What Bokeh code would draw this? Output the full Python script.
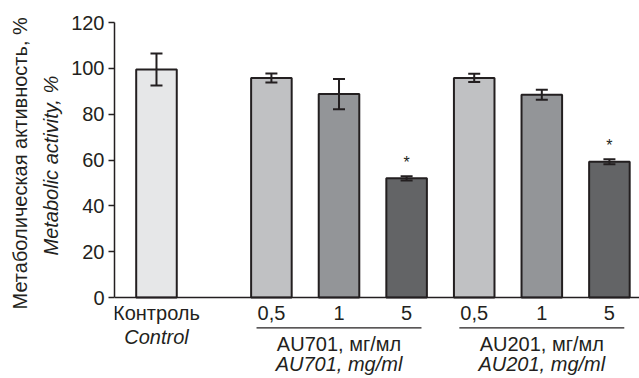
from bokeh.plotting import figure
from bokeh.models import ColumnDataSource, Range1d, FixedTicker, Whisker, TeeHead, Title
from bokeh.embed import file_html
from bokeh.resources import INLINE
from bokeh.core.properties import value

# Metabolic activity of cells, % of control (mean and error)
dose_labels = ["Контроль", "0,5", "1", "5", "0,5", "1", "5"]
series_group = ["Control", "AU701", "AU701", "AU701", "AU201", "AU201", "AU201"]
activity = [99.5, 95.8, 88.8, 52.0, 95.8, 88.5, 59.2]
errors = [7.0, 2.0, 6.6, 0.9, 1.8, 2.2, 1.1]
significant = [False, False, False, True, False, False, True]
control_label_en = "Control"
group_names = ["AU701", "AU201"]
group_titles_ru = ["AU701, мг/мл", "AU201, мг/мл"]
group_titles_en = ["AU701, mg/ml", "AU201, mg/ml"]
y_ticks = [0, 20, 40, 60, 80, 100, 120]
y_title_ru = "Метаболическая активность, %"
y_title_en = "Metabolic activity, %"

# ---- styling ----
FONT = "Liberation Sans"
INK = "#231f20"
CONTROL_FILL = "#e6e7e8"
DOSE_FILL = {"0,5": "#c0c1c3", "1": "#939598", "5": "#636466"}
CONTROL_GAP = 1.7          # distance from the control bar to the first treated bar
BAR_WIDTH = 0.6
X_START, X_END = -0.621, 7.145
Y_TOP = 120
PX = 120 / 275             # data units per screen pixel on the value axis


def below(px):
    """Value-axis coordinate lying `px` pixels below the zero line."""
    return -px * PX


xs = [0.0] + [CONTROL_GAP + i for i in range(len(activity) - 1)]
fills = [CONTROL_FILL if g == "Control" else DOSE_FILL[d] for g, d in zip(series_group, dose_labels)]
upper = [a + e for a, e in zip(activity, errors)]
lower = [a - e for a, e in zip(activity, errors)]

src = ColumnDataSource(dict(x=xs, top=activity, upper=upper, lower=lower, fill=fills))

p = figure(width=639, height=378, output_backend="svg", toolbar_location=None,
           x_range=Range1d(X_START, X_END), y_range=Range1d(below(81), Y_TOP),
           x_axis_location=None,
           min_border_left=114, min_border_right=0, min_border_top=22, min_border_bottom=0)
p.outline_line_color = None
p.grid.visible = False
p.background_fill_color = "white"

# value axis
ax = p.yaxis[0]
ax.bounds = (0, Y_TOP)
ax.ticker = FixedTicker(ticks=y_ticks)
ax.minor_tick_line_color = None
ax.major_tick_in = 0
ax.major_tick_out = 6
ax.major_tick_line_width = 1.5
ax.major_tick_line_color = INK
ax.axis_line_width = 1.5
ax.axis_line_color = INK
ax.major_label_standoff = 4
ax.major_label_text_font = FONT
ax.major_label_text_font_size = "20px"
ax.major_label_text_color = INK

# two-line axis title: English (italic) next to the axis, Russian outside it
p.add_layout(Title(text=y_title_en, align="left", offset=123, standoff=14,
                   text_font=FONT, text_font_size="20px", text_font_style="italic",
                   text_color=INK), "left")
p.add_layout(Title(text=y_title_ru, align="left", offset=69, standoff=0,
                   text_font=FONT, text_font_size="20px", text_font_style="normal",
                   text_color=INK), "left")

# bars
p.vbar(x="x", top="top", bottom=0, width=BAR_WIDTH, source=src,
       fill_color="fill", line_color=INK, line_width=2)

# baseline
p.segment(x0=[X_START], y0=[0], x1=[X_END], y1=[0], line_color=INK, line_width=1.5)

# error bars, drawn over the bars
p.add_layout(Whisker(source=src, base="x", upper="upper", lower="lower",
                     level="overlay", line_color=INK, line_width=2,
                     upper_head=TeeHead(size=12, line_color=INK, line_width=2),
                     lower_head=TeeHead(size=12, line_color=INK, line_width=2)))

# significance marks
sx = [x for x, s in zip(xs, significant) if s]
sy = [u for u, s in zip(upper, significant) if s]
p.text(x=sx, y=sy, text=["*"] * len(sx), y_offset=-14, text_align="center",
       text_baseline="alphabetic", text_font=value(FONT), text_font_size="16px",
       text_color=INK)

# category labels under the bars
p.text(x=xs, y=[below(15.5)] * len(xs), text=dose_labels, text_align="center",
       text_baseline="alphabetic", text_font=value(FONT), text_font_size="20px",
       text_color=INK)
p.text(x=[xs[0]], y=[below(39.3)], text=[control_label_en], text_align="center",
       text_baseline="alphabetic", text_font=value(FONT), text_font_size="20px",
       text_font_style="italic", text_color=INK)

# group brackets and titles
for name, ru, en in zip(group_names, group_titles_ru, group_titles_en):
    gx = [x for x, g in zip(xs, series_group) if g == name]
    mid = (gx[0] + gx[-1]) / 2
    p.segment(x0=[gx[0] - 0.22], y0=[below(30.3)], x1=[gx[-1] + 0.22], y1=[below(30.3)],
              line_color=INK, line_width=1.2)
    p.text(x=[mid], y=[below(46)], text=[ru], text_align="center",
           text_baseline="alphabetic", text_font=value(FONT), text_font_size="20px",
           text_color=INK)
    p.text(x=[mid], y=[below(66.6)], text=[en], text_align="center",
           text_baseline="alphabetic", text_font=value(FONT), text_font_size="20px",
           text_font_style="italic", text_color=INK)

open("out.html", "w").write(file_html(p, INLINE))
